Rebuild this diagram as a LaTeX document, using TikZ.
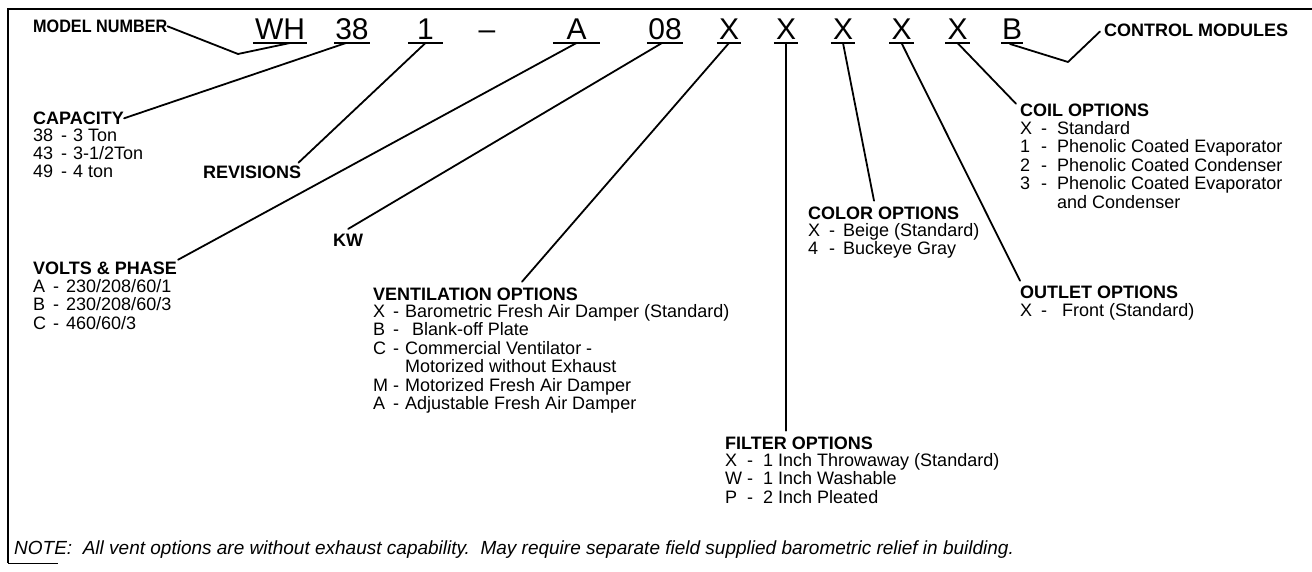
\documentclass[tikz,border=0pt]{standalone}
\usepackage{fontspec}
\setmainfont{Liberation Sans}
\usetikzlibrary{calc}
\begin{document}
\begin{tikzpicture}[x=1pt,y=-1pt,
  conn/.style={line width=1.8pt, line join=round, line cap=round},
  head/.style={anchor=base west, inner sep=0pt, font=\fontsize{18}{18}\selectfont\bfseries},
  item/.style={anchor=base west, inner sep=0pt, font=\fontsize{18}{18}\selectfont},
  codebox/.style={anchor=base, inner sep=0pt, font=\fontsize{30}{30}\selectfont},
  uline/.style={line width=1.6pt},
  frame/.style={line width=2pt},
]
\useasboundingbox (0,0) rectangle (1312,572);
\fill[white] (0,0) rectangle (1312,572);
% frame
\draw[frame] (1312,9) -- (8,9) -- (8,563);
\draw[line width=1pt] (8,563) -- (58,563);

% code row
\node[codebox, minimum width=54pt] (nWH) at (280,40) {WH};
\node[codebox, minimum width=36pt] (n38) at (352,40) {38};
\node[codebox, minimum width=35pt] (n1) at (425.5,40) {1};
\node[codebox] (ndash) at (487,40) {--};
\node[codebox, minimum width=47pt] (nA) at (576.5,40) {A};
\node[codebox, minimum width=36pt] (n08) at (665,40) {08};
\node[codebox, minimum width=24pt] (nX1) at (729,40) {X};
\node[codebox, minimum width=24pt] (nX2) at (786,40) {X};
\node[codebox, minimum width=24pt] (nX3) at (843,40) {X};
\node[codebox, minimum width=24pt] (nX4) at (901.5,40) {X};
\node[codebox, minimum width=24pt] (nX5) at (957.5,40) {X};
\node[codebox, minimum width=21pt] (nB) at (1012,40) {B};
\foreach \n in {nWH,n38,n1,nA,n08,nX1,nX2,nX3,nX4,nX5,nB}
  \draw[uline] ([yshift=-3pt]\n.base west) -- ([yshift=-3pt]\n.base east);

% underline attachment points
\coordinate (uWH) at ([xshift=10pt,yshift=-3pt]nWH.base);
\coordinate (u38) at ([xshift=-6pt,yshift=-3pt]n38.base);
\coordinate (u1) at ([yshift=-3pt]n1.base);
\coordinate (uA) at ([yshift=-3pt]nA.base);
\coordinate (u08) at ([xshift=-3pt,yshift=-3pt]n08.base);
\coordinate (uX1) at ([yshift=-3pt]nX1.base);
\coordinate (uX2) at ([yshift=-3pt]nX2.base);
\coordinate (uX3) at ([yshift=-3pt]nX3.base);
\coordinate (uX4) at ([yshift=-3pt]nX4.base);
\coordinate (uX5) at ([yshift=-3pt]nX5.base);
\coordinate (uB) at ([xshift=-2pt,yshift=-4pt]nB.base);

% headings
\node[head] (model) at (33,32.5) {\scalebox{0.9}[1]{MODEL NUMBER}};
\node[head] (ctrl) at (1104,36.5) {CONTROL MODULES};
\node[head] (cap) at (33,124.5) {CAPACITY};
\node[head] (rev) at (203,178.5) {REVISIONS};
\node[head] (volts) at (33,274.5) {VOLTS \& PHASE};
\node[head] (kw) at (333,246.5) {KW};
\node[head] (vent) at (373,300.5) {VENTILATION OPTIONS};
\node[head] (filter) at (725,449.5) {FILTER OPTIONS};
\node[head] (color) at (808,219.5) {COLOR OPTIONS};
\node[head] (outlet) at (1020,298.5) {OUTLET OPTIONS};
\node[head] (coil) at (1020,116.5) {COIL OPTIONS};

% lists
\node[item, font=\fontsize{18}{16.8}\selectfont] (caplist) at (33,141.5) {\begin{tabular}[t]{@{}p{28pt}@{}p{12pt}@{}l@{}}
38 & - & 3 Ton\\ 43 & - & 3-1/2Ton\\ 49 & - & 4 ton\end{tabular}};
\node[item] (voltslist) at (33,292.5) {\begin{tabular}[t]{@{}p{20pt}@{}p{13pt}@{}l@{}}
A & - & 230/208/60/1\\ B & - & 230/208/60/3\\ C & - & 460/60/3\end{tabular}};
\node[item] (ventlist) at (373,317.5) {\begin{tabular}[t]{@{}p{20pt}@{}p{12pt}@{}l@{}}
X & - & Barometric Fresh Air Damper (Standard)\\
B & - & \hspace{7pt}Blank-off Plate\\
C & - & Commercial Ventilator -\\
 & & Motorized without Exhaust\\
M & - & Motorized Fresh Air Damper\\
A & - & Adjustable Fresh Air Damper\end{tabular}};
\node[item] (filterlist) at (725,466.5) {\begin{tabular}[t]{@{}p{22pt}@{}p{16pt}@{}l@{}}
X & - & 1 Inch Throwaway (Standard)\\ W & - & 1 Inch Washable\\ P & - & 2 Inch Pleated\end{tabular}};
\node[item] (colorlist) at (808,236.5) {\begin{tabular}[t]{@{}p{21pt}@{}p{14pt}@{}l@{}}
X & - & Beige (Standard)\\ 4 & - & Buckeye Gray\end{tabular}};
\node[item] (outletlist) at (1020,316.5) {\begin{tabular}[t]{@{}p{21pt}@{}p{21pt}@{}l@{}}
X & - & Front (Standard)\end{tabular}};
\node[item] (coillist) at (1020,134.5) {\begin{tabular}[t]{@{}p{21pt}@{}p{16pt}@{}l@{}}
X & - & Standard\\ 1 & - & Phenolic Coated Evaporator\\ 2 & - & Phenolic Coated Condenser\\
3 & - & Phenolic Coated Evaporator\\ & & and Condenser\end{tabular}};

% note
\node[item, font=\fontsize{19}{19}\selectfont\itshape] (note) at (14,554.5)
  {NOTE:\ \ All vent options are without exhaust capability.\ \ May require separate field supplied barometric relief in building.};

% connector end points near labels
\coordinate (modelElbow) at (238,54);
\coordinate (ctrlElbow) at (1068,62);
\coordinate (revEnd) at ($(rev.north east)+(-3,-3)$);
\coordinate (voltsEnd) at ($(volts.north east)+(1,-2)$);
\coordinate (kwEnd) at ($(kw.north)+(0,-5)$);
\coordinate (ventEnd) at ($(vent.north west)+(149,-6)$);
\coordinate (filterEnd) at ($(filter.north west)+(61,-6)$);
\coordinate (colorEnd) at ($(color.north west)+(66,-6)$);
\coordinate (outletEnd) at ($(outlet.north west)+(0,-5)$);
\coordinate (coilEnd) at ($(coil.north west)+(-4,0)$);
\coordinate (ctrlEnd) at ($(ctrl.base west)+(-4,-5)$);

% connectors
\draw[conn] (model.east) -- (modelElbow) -- (uWH);
\draw[conn] (cap.east) -- (u38);
\draw[conn] (revEnd) -- (u1);
\draw[conn] (voltsEnd) -- (uA);
\draw[conn] (kwEnd) -- (u08);
\draw[conn] (ventEnd) -- (uX1);
\draw[conn] (uX2) -- (filterEnd);
\draw[conn] (uX3) -- (colorEnd);
\draw[conn] (uX4) -- (outletEnd);
\draw[conn] (uX5) -- (coilEnd);
\draw[conn] (uB) -- (ctrlElbow) -- (ctrlEnd);
\end{tikzpicture}
\end{document}
